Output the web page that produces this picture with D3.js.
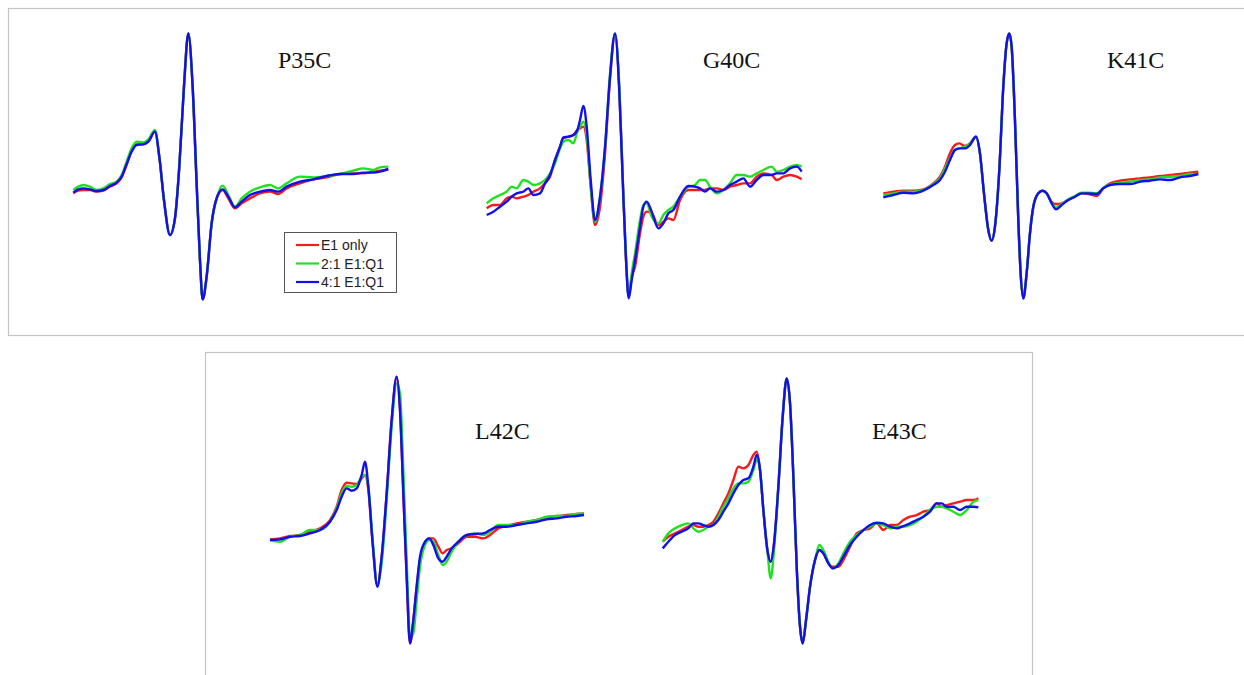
<!DOCTYPE html>
<html>
<head>
<meta charset="utf-8">
<script src="https://cdn.jsdelivr.net/npm/d3@7"></script>
<style>
  body { margin: 0; background: #fff; }
  svg { display: block; }
</style>
</head>
<body>
<div id="plot"></div>
<script>
// Series names (legend)
var seriesNames = ["E1 only", "2:1 E1:Q1", "4:1 E1:Q1"];
var seriesColors = ["#f81a1a", "#20e020", "#1010ee"];

// P35C  (field offset in 1/3 px units, intensity a.u.)
var p35cField = [0,15,30,50,70,90,110,130,145,160,175,190,210,225,245,258,272,290,305,318,332,345,358,370,380,388,400,415,430,448,465,485,505,530,560,590,615,640,680,720,760,800,840,870,900,920,945];
var p35cE1  = [-10,-2,0,0,-5,-2,10,20,38,75,118,137,138,145,175,100,-30,-135,-85,70,310,470,310,20,-210,-328,-260,-100,-25,0,-25,-55,-40,-25,-10,-5,-12,5,20,32,38,48,50,50,55,58,62];
var p35cQ2  = [0,10,15,10,0,5,18,25,45,85,125,145,143,152,180,100,-30,-135,-85,70,310,470,310,20,-210,-328,-260,-100,-25,13,-15,-50,-25,-5,8,15,5,20,40,38,42,48,58,65,60,68,70];
var p35cQ4  = [-8,2,5,2,-3,0,12,22,40,78,115,135,137,145,175,100,-30,-135,-85,70,310,470,310,20,-210,-328,-260,-100,-25,2,-20,-52,-35,-15,-5,0,-5,10,25,32,42,48,48,52,52,55,63];

// G40C
var g40cField = [0,20,40,60,75,90,110,125,140,160,175,190,205,220,230,245,260,272,280,290,300,312,325,340,355,370,385,398,408,418,426,435,445,460,470,480,495,515,530,545,560,580,605,625,640,655,670,690,710,730,750,770,790,810,830,855,870,890,910,930,945];
var g40cE1  = [-25,-15,-15,5,10,5,10,15,25,35,50,70,120,160,185,190,195,210,215,220,180,40,-75,-20,140,365,495,330,70,-180,-290,-230,-200,-100,-50,-35,-40,-75,-65,-55,-60,0,30,30,30,30,35,35,30,40,45,50,50,70,80,75,60,70,75,70,62];
var g40cQ2  = [-10,5,15,25,40,35,60,55,45,50,60,80,110,155,175,180,170,205,220,235,195,40,-65,10,155,380,500,335,65,-175,-290,-220,-160,-60,-15,-10,-50,-70,-45,-30,-20,10,40,45,60,60,40,20,30,50,75,75,70,80,90,100,85,90,100,105,100];
var g40cQ4  = [-45,-35,-20,-5,10,20,25,35,15,20,50,75,120,160,188,190,195,210,240,282,220,60,-60,10,160,370,500,320,60,-180,-295,-240,-180,-80,-20,-5,-35,-85,-70,-40,-30,10,42,40,35,25,35,25,30,45,55,65,40,60,75,75,80,80,95,100,85];

// K41C
var k41cField = [0,30,60,90,120,150,170,185,200,215,228,245,260,278,290,302,315,325,335,348,360,370,378,385,395,405,412,420,430,440,450,465,478,490,505,518,535,555,575,595,615,640,660,680,710,740,770,800,830,860,890,920,945];
var k41cE1  = [-5,0,3,3,7,25,45,75,115,140,145,137,145,165,115,-5,-115,-147,-105,65,315,445,475,435,215,-85,-245,-320,-245,-125,-45,-5,3,-5,-30,-37,-35,-25,-15,-5,-7,-13,10,25,33,37,40,43,47,50,53,57,60];
var k41cQ2  = [-10,-5,0,0,5,23,40,70,100,125,130,135,143,165,115,-5,-115,-147,-105,65,315,445,475,435,215,-85,-245,-320,-245,-125,-45,-5,3,-5,-33,-47,-37,-23,-13,-3,-3,-5,12,22,27,30,35,37,43,45,47,53,53];
var k41cQ4  = [-17,-10,-3,-5,3,20,35,60,95,125,130,130,140,165,115,-5,-115,-147,-105,65,315,445,475,435,215,-85,-245,-320,-245,-125,-45,-5,3,-5,-35,-53,-40,-25,-15,-5,-5,-7,10,20,23,23,30,33,37,35,43,47,53];

// L42C
var l42cField = [0,30,60,90,120,150,180,200,215,230,245,260,275,285,295,308,322,335,350,365,380,390,400,410,420,430,440,450,465,478,490,505,518,530,545,565,590,615,640,660,685,710,740,770,800,830,860,890,920,942];
var l42cE1  = [-8,-5,2,5,15,25,50,90,140,162,160,158,175,185,140,-20,-145,-60,130,350,480,380,130,-120,-320,-250,-150,-70,-18,-5,-5,-30,-50,-40,-35,-20,0,0,-5,5,25,32,40,45,50,58,62,65,68,70];
var l42cQ2  = [-10,-15,0,5,20,20,45,85,130,152,150,155,180,185,150,-10,-145,-80,110,330,460,430,200,-70,-300,-290,-190,-90,-25,-10,-15,-55,-85,-75,-45,-15,5,10,5,15,35,35,35,45,50,60,62,62,68,70];
var l42cQ4  = [-10,-8,0,2,10,20,45,80,120,145,138,145,185,225,150,-20,-150,-60,130,350,480,380,130,-120,-320,-250,-150,-60,-15,-5,-25,-65,-75,-60,-35,-15,5,8,10,20,30,30,35,40,45,52,55,60,62,65];

// E43C
var e43cField = [0,17,37,57,77,92,107,122,137,152,167,182,197,212,227,242,257,272,282,292,302,314,324,334,347,360,372,382,392,402,412,420,430,442,457,470,482,497,510,527,542,562,582,602,622,642,662,682,702,722,742,762,782,802,822,837,852,872,892,912,932,947];
var e43cE1  = [-45,-30,-20,-10,0,5,0,0,5,15,40,70,100,140,180,175,185,215,225,170,50,-70,-105,-50,120,330,445,370,150,-120,-300,-350,-280,-180,-100,-70,-80,-110,-120,-120,-100,-60,-20,-10,-5,10,-10,5,5,20,30,35,45,50,70,60,65,70,75,80,80,85];
var e43cQ2  = [-45,-20,-5,5,10,-5,-15,-10,0,5,30,60,85,115,130,130,135,170,200,170,50,-70,-155,-70,120,330,445,370,150,-120,-300,-350,-280,-180,-100,-55,-70,-105,-125,-110,-80,-45,-25,-10,0,10,5,-5,0,0,5,15,30,50,60,60,55,45,35,50,75,80];
var e43cQ4  = [-65,-45,-25,-15,-5,10,10,5,0,5,20,45,70,100,125,140,145,180,215,170,50,-70,-105,-50,120,330,445,370,150,-120,-300,-350,-280,-180,-100,-70,-80,-110,-125,-115,-90,-55,-30,-10,5,12,10,0,-5,2,10,20,30,45,70,70,60,60,50,60,60,58];

// Panel layout: pixel of (field 0, intensity 0) and title position
var panels = [
  {title: "P35C", field: p35cField, series: [p35cE1, p35cQ2, p35cQ4], x0: 73.3,  y0: 190,   tx: 278, ty: 68, legend: true},
  {title: "G40C", field: g40cField, series: [g40cE1, g40cQ2, g40cQ4], x0: 486.7, y0: 200,   tx: 703, ty: 68},
  {title: "K41C", field: k41cField, series: [k41cE1, k41cQ2, k41cQ4], x0: 883.3, y0: 191.7, tx: 1107, ty: 68},
  {title: "L42C", field: l42cField, series: [l42cE1, l42cQ2, l42cQ4], x0: 270,   y0: 536.7, tx: 475, ty: 439},
  {title: "E43C", field: e43cField, series: [e43cE1, e43cQ2, e43cQ4], x0: 662.7, y0: 526.7, tx: 872, ty: 439}
];

var w = 1244, h = 675;
var svg = d3.select("#plot").append("svg")
    .attr("width", w)
    .attr("height", h);

// frames
svg.append("rect")
    .attr("x", 8.5).attr("y", 8.5)
    .attr("width", 1245).attr("height", 327)
    .attr("fill", "none").attr("stroke", "#c4c4c4").attr("stroke-width", 1.2);
svg.append("rect")
    .attr("x", 205.5).attr("y", 352.5)
    .attr("width", 827).attr("height", 340)
    .attr("fill", "none").attr("stroke", "#c4c4c4").attr("stroke-width", 1.2);

panels.forEach(function(p) {
  var xScale = d3.scaleLinear().domain([0, 1000]).range([p.x0, p.x0 + 1000/3]);
  var yScale = d3.scaleLinear().domain([0, 300]).range([p.y0, p.y0 - 100]);

  var line = d3.line()
      .x(function(d) { return xScale(d[0]); })
      .y(function(d) { return yScale(d[1]); })
      .curve(d3.curveMonotoneX);

  var g = svg.append("g");
  p.series.forEach(function(vals, i) {
    var pts = p.field.map(function(f, j) { return [f, vals[j]]; });
    g.append("path")
        .datum(pts)
        .attr("d", line)
        .attr("fill", "none")
        .attr("stroke", seriesColors[i])
        .attr("stroke-width", 2.4)
        .attr("stroke-linejoin", "round");
  });

  svg.append("text")
      .attr("x", p.tx).attr("y", p.ty)
      .attr("font-family", "Liberation Serif, Times New Roman, serif")
      .attr("font-size", 24)
      .attr("fill", "#111")
      .text(p.title);

  if (p.legend) {
    var lg = svg.append("g").attr("transform", "translate(284,232)");
    lg.append("rect")
        .attr("x", 0.5).attr("y", 0.5)
        .attr("width", 112).attr("height", 60)
        .attr("fill", "#fff").attr("stroke", "#555").attr("stroke-width", 1);
    seriesNames.forEach(function(name, i) {
      var yy = 13 + i * 18.5;
      lg.append("line")
          .attr("x1", 12).attr("x2", 35)
          .attr("y1", yy).attr("y2", yy)
          .attr("stroke", seriesColors[i]).attr("stroke-width", 2.2);
      lg.append("text")
          .attr("x", 37).attr("y", yy + 5)
          .attr("font-family", "Liberation Sans, Arial, sans-serif")
          .attr("font-size", 14)
          .attr("fill", "#222")
          .text(name);
    });
  }
});
</script>
</body>
</html>
